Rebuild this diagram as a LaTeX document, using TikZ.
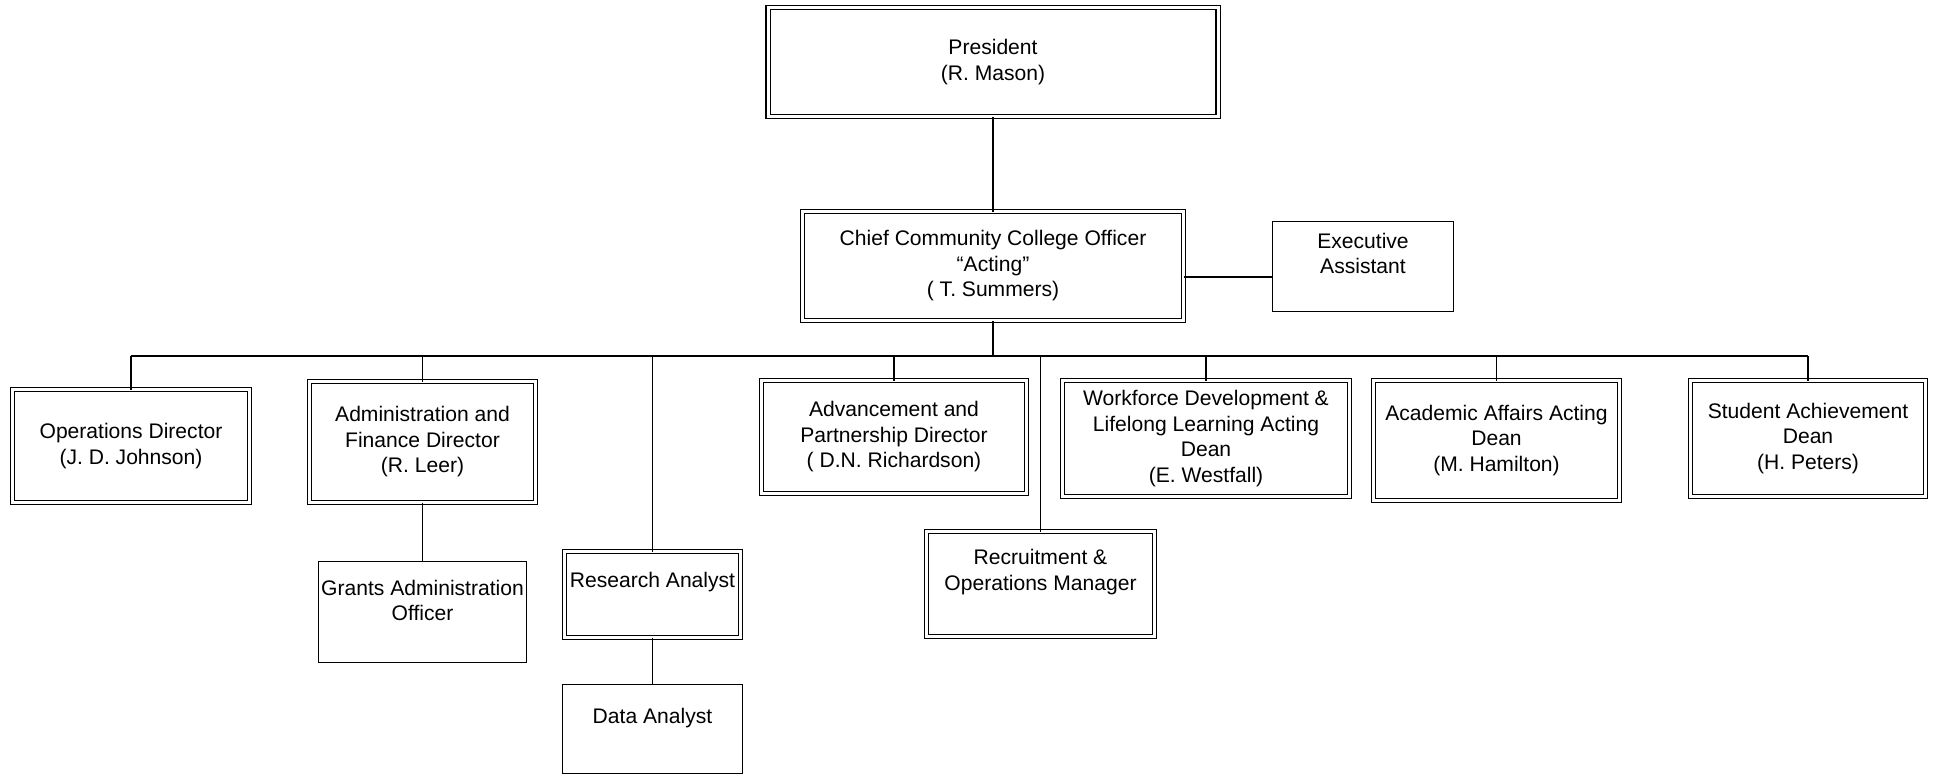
\documentclass[tikz,border=0pt]{standalone}
\usepackage{fontspec}
\setmainfont{Liberation Sans}
\usepackage{tikz}
\usetikzlibrary{positioning, calc}
\newcommand{\orgfont}{\fontsize{12}{14.5}\selectfont}
\tikzset{
  dbox/.style={draw, double, double distance=1.7pt, line width=0.7pt, inner sep=0pt, outer sep=0pt, align=center, font=\orgfont},
  sbox/.style={draw, line width=0.9pt, inner sep=0pt, outer sep=0pt, align=center, font=\orgfont},
  sz/.style 2 args={minimum width=#1*0.02cm, minimum height=#2*0.02cm},
  lbl/.style={align=center, font=\orgfont, inner sep=0pt},
  link/.style={line width=0.9pt}
}

\begin{document}
\begin{tikzpicture}[x=0.02cm, y=-0.02cm]
    \useasboundingbox (0,0) rectangle (1938,775);
    % top
    \node[dbox, sz={450}{109}] (pres) at (993,62) {President\\(R. Mason)};
    \node[dbox, sz={381}{109}] (chief) at (993,266) {Chief Community College Officer\\``Acting''\\( T. Summers)};
    \node[sbox, sz={181}{90}] (ea) at (1363,266.5) {};
    \node[lbl, yshift=0.26cm] (eaT) at (ea) {Executive\\Assistant};
    % second row
    \node[dbox, sz={237}{113}] (ops) at (131,446) {Operations Director\\(J. D. Johnson)};
    \node[dbox, sz={226}{121}] (adm) at (422.5,442) {Administration and\\Finance Director\\(R. Leer)};
    \node[dbox, sz={265}{113}] (adv) at (894,437) {Advancement and\\Partnership Director\\( D.N. Richardson)};
    \node[dbox, sz={287}{116}] (wfd) at (1206,438.5) {Workforce Development \&\\Lifelong Learning Acting\\Dean\\(E. Westfall)};
    \node[dbox, sz={246}{120}] (aad) at (1496.5,440.5) {Academic Affairs Acting\\Dean\\(M. Hamilton)};
    \node[dbox, sz={235}{116}] (sad) at (1808,438.5) {Student Achievement\\Dean\\(H. Peters)};
    % lower boxes
    \node[dbox, sz={176}{86}] (ra) at (652.5,594.5) {};
    \node[lbl, yshift=0.25cm] (raT) at (ra) {Research Analyst};
    \node[dbox, sz={228}{105}] (rom) at (1040.5,584) {};
    \node[lbl, yshift=0.24cm] (romT) at (rom) {Recruitment \&\\Operations Manager};
    \node[sbox, sz={208}{101}] (gao) at (422.5,612) {};
    \node[lbl, yshift=0.23cm] (gaoT) at (gao) {Grants Administration\\Officer};
    \node[sbox, sz={180}{89}] (da) at (652.5,729) {};
    \node[lbl, yshift=0.22cm] (daT) at (da) {Data Analyst};
    % connectors
    \coordinate (bus) at (0,356);
    \draw[link] (pres) -- (chief);
    \draw[link] ([yshift=-0.22cm]chief.east) -- ([yshift=-0.22cm]chief.east -| ea.west);
    \draw[link] (chief.south) -- (chief.south |- bus);
    \draw[link] (ops.north |- bus) -- (sad.north |- bus);
    \foreach \n in {ops,adm,ra,adv,rom,wfd,aad,sad}
      \draw[link] (\n.north |- bus) -- (\n.north);
    \draw[link] (adm) -- (gao);
    \draw[link] (ra) -- (da);
\end{tikzpicture}
\end{document}
